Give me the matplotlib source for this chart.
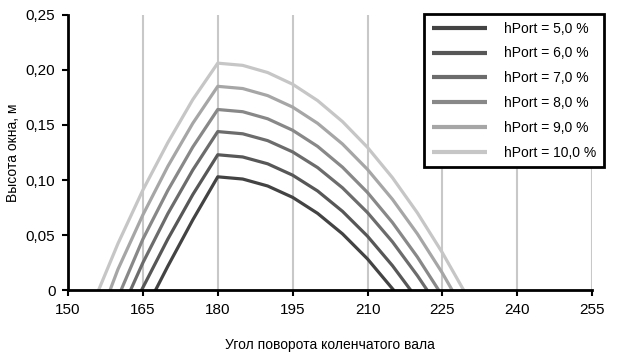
import matplotlib
matplotlib.use("Agg")
import matplotlib.pyplot as plt

plt.rcParams["font.family"] = ["Liberation Sans", "DejaVu Sans"]

# crank angle, deg / window height, m
labels = ["hPort = 5,0 %", "hPort = 6,0 %", "hPort = 7,0 %",
          "hPort = 8,0 %", "hPort = 9,0 %", "hPort = 10,0 %"]

x5 = [167.5, 170, 175, 180, 185, 190, 195, 200, 205, 210, 215.3]
y5 = [0, 0.022, 0.064, 0.103, 0.101, 0.0947, 0.0844, 0.0699, 0.0513, 0.0286, 0]

x6 = [164.7, 170, 175, 180, 185, 190, 195, 200, 205, 210, 215, 218.7]
y6 = [0, 0.0466, 0.0869, 0.123, 0.121, 0.1148, 0.1045, 0.0902, 0.0717, 0.0492, 0.0225, 0]

x7 = [162.5, 165, 170, 175, 180, 185, 190, 195, 200, 205, 210, 215, 220, 222]
y7 = [0, 0.0251, 0.0696, 0.1092, 0.144, 0.142, 0.1358, 0.1256, 0.1114, 0.093,
      0.0706, 0.0441, 0.0134, 0]

x8 = [160.6, 165, 170, 175, 180, 185, 190, 195, 200, 205, 210, 215, 220, 224.3]
y8 = [0, 0.0465, 0.0907, 0.130, 0.164, 0.162, 0.1556, 0.1452, 0.1306, 0.1117,
      0.0888, 0.0616, 0.0303, 0]

x9 = [158.4, 160, 165, 170, 175, 180, 185, 190, 195, 200, 205, 210, 215, 220, 225, 227]
y9 = [0, 0.0191, 0.0685, 0.1125, 0.1515, 0.185, 0.183, 0.1766, 0.1662, 0.1515,
      0.1327, 0.1097, 0.0826, 0.0513, 0.0158, 0]

x10 = [156.1, 160, 165, 170, 175, 180, 185, 190, 195, 200, 205, 210, 215, 220, 225, 229.3]
y10 = [0, 0.0424, 0.091, 0.134, 0.173, 0.206, 0.204, 0.1975, 0.1869, 0.1721,
       0.153, 0.1297, 0.1022, 0.0703, 0.0342, 0]

series = [(x5, y5), (x6, y6), (x7, y7), (x8, y8), (x9, y9), (x10, y10)]
colors = ["#434343", "#575757", "#6c6c6c", "#888888", "#a6a6a6", "#c6c6c6"]

xticks = [150, 165, 180, 195, 210, 225, 240, 255]
yticks = [0, 0.05, 0.10, 0.15, 0.20, 0.25]
yticklabels = ["0", "0,05", "0,10", "0,15", "0,20", "0,25"]

fig = plt.figure(figsize=(6.22, 3.56), dpi=100)
ax = fig.add_axes([0.1093, 0.184, 0.8427, 0.775])

for xv in xticks[1:]:
    ax.axvline(xv, color="#c8c8c8", lw=1.5, zorder=1)

for (xs, ys), c, lab in zip(series, colors, labels):
    ax.plot(xs, ys, color=c, lw=2.3, label=lab, zorder=3, solid_capstyle="butt")

ax.set_xlim(150, 255)
ax.set_ylim(0, 0.25)
ax.set_xticks(xticks)
ax.set_yticks(yticks, yticklabels)
ax.tick_params(labelsize=11, width=1.5, length=4, direction="out", pad=5)
for s in ("top", "right"):
    ax.spines[s].set_visible(False)
for s in ("left", "bottom"):
    ax.spines[s].set_linewidth(2)
    ax.spines[s].set_zorder(4)

ax.set_xlabel("Угол поворота коленчатого вала", fontsize=10, labelpad=15)
ax.set_ylabel("Высота окна, м", fontsize=10, labelpad=4)

leg = fig.legend(loc="upper left", bbox_to_anchor=(424 / 622, 1 - 14 / 356),
                 fontsize=10, handlelength=4.0, labelspacing=0.78,
                 borderpad=0.55, handletextpad=1.2, fancybox=False,
                 framealpha=1, edgecolor="black", borderaxespad=0)
leg.get_frame().set_linewidth(2)
for h in leg.get_lines():
    h.set_linewidth(3)

fig.savefig("out.png", dpi=100)
